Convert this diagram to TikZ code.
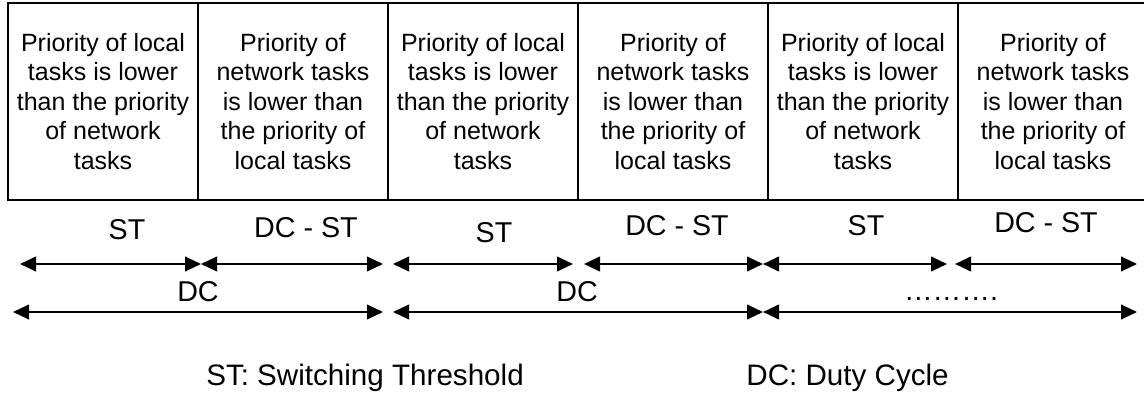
\documentclass[tikz,border=0pt]{standalone}
\usepackage{fontspec}
\setmainfont{Liberation Sans}
\usetikzlibrary{arrows.meta,positioning}

\begin{document}
\begin{tikzpicture}[
  x=0.75pt, y=-0.75pt,
  >={Triangle[length=12pt,width=11pt]},
  slotbox/.style={
    draw=black,
    line width=1.5pt,
    outer sep=0pt,
    inner sep=0pt,
    minimum width=142.5pt,
    minimum height=147.75pt,
    align=center,
    font=\fontsize{18.75}{22.1}\selectfont
  },
  spanlabel/.style={
    inner sep=0pt,
    font=\fontsize{21.5}{24}\selectfont
  },
  legendtext/.style={
    inner sep=0pt,
    font=\fontsize{22.2}{26}\selectfont
  },
  spanarrow/.style={
    <->,
    line width=1.5pt
  }
]
  \useasboundingbox (0,0) rectangle (1144,395);

  % --- TOP ROW: priority slots ---
  \node[slotbox, anchor=north west] (b1) at (8,3) {Priority of local\\tasks is lower\\than the priority\\of network\\tasks};
  \node[slotbox, right=0pt of b1] (b2) {Priority of\\network tasks\\is lower than\\the priority of\\local tasks};
  \node[slotbox, right=0pt of b2] (b3) {Priority of local\\tasks is lower\\than the priority\\of network\\tasks};
  \node[slotbox, right=0pt of b3] (b4) {Priority of\\network tasks\\is lower than\\the priority of\\local tasks};
  \node[slotbox, right=0pt of b4] (b5) {Priority of local\\tasks is lower\\than the priority\\of network\\tasks};
  \node[slotbox, right=0pt of b5] (b6) {Priority of\\network tasks\\is lower than\\the priority of\\local tasks};

  % --- span labels ---
  \node[spanlabel] (st1) at (127,230) {ST};
  \node[spanlabel] (dcst1) at (306,228) {DC - ST};
  \node[spanlabel] (st2) at (494,233) {ST};
  \node[spanlabel] (dcst2) at (677,226) {DC - ST};
  \node[spanlabel] (st3) at (866,226) {ST};
  \node[spanlabel] (dcst3) at (1046,223) {DC - ST};

  % --- end points of the spans ---
  \coordinate (p0) at (20,264);
  \coordinate (p1) at (201,264);
  \coordinate (p2) at (383,264);
  \coordinate (p3) at (393,264);
  \coordinate (p4) at (573,264);
  \coordinate (p5) at (584,264);
  \coordinate (p6) at (763,264);
  \coordinate (p7) at (947,264);
  \coordinate (p8) at (955,264);
  \coordinate (p9) at (1137,264);

  \coordinate (q0) at (13,312);
  \coordinate (q1) at (383,312);
  \coordinate (q2) at (393,312);
  \coordinate (q3) at (763,312);
  \coordinate (q4) at (1137,312);

  % ST / DC-ST spans
  \draw[spanarrow] (p0) -- (p1);
  \draw[spanarrow] (p1) -- (p2);
  \draw[spanarrow] (p3) -- (p4);
  \draw[spanarrow] (p5) -- (p6);
  \draw[spanarrow] (p6) -- (p7);
  \draw[spanarrow] (p8) -- (p9);

  % DC spans
  \node[spanlabel] (dc1) at (198,292) {DC};
  \node[spanlabel] (dc2) at (577,292) {DC};
  \node[spanlabel, anchor=base] (more) at (951,300) {……….};
  \draw[spanarrow] (q0) -- (q1);
  \draw[spanarrow] (q2) -- (q3);
  \draw[spanarrow] (q3) -- (q4);

  % Legend
  \node[legendtext, anchor=base west] (legst) at (206,385) {ST: Switching Threshold};
  \node[legendtext, anchor=base east] (legdc) at (949,385) {DC: Duty Cycle};

\end{tikzpicture}
\end{document}
